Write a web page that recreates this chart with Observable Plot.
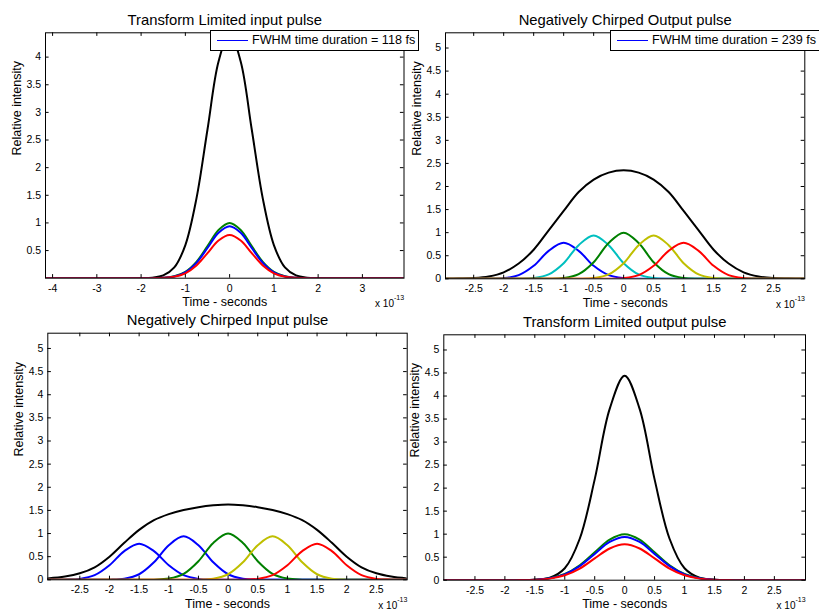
<!DOCTYPE html>
<html>
<head>
<meta charset="utf-8">
<script src="https://cdn.jsdelivr.net/npm/d3@7"></script>
<script src="https://cdn.jsdelivr.net/npm/@observablehq/plot@0.6"></script>
<style>
  html, body { margin: 0; padding: 0; background: #fff; }
  #chart { position: relative; width: 819px; height: 610px; overflow: hidden; background: #fff;
           font-family: "Liberation Sans", Arial, Helvetica, sans-serif; }
  #chart svg { position: absolute; left: 0; top: 0; }
  .legend { position: absolute; height: 21px; border: 1px solid #000; background: #fff; box-sizing: border-box;
            font-size: 12.6px; color: #000; white-space: nowrap; overflow: hidden; }
  .legend .ln { position: absolute; left: 6px; top: 9px; width: 31px; height: 0; border-top: 1px solid #0000ff; }
  .legend .tx { position: absolute; left: 41px; top: 0; line-height: 19px; }
</style>
</head>
<body>
<div id="chart"></div>
<script>
// ---------------- DATA ----------------
const titles = ["Transform Limited input pulse", "Negatively Chirped Output pulse",
                "Negatively Chirped Input pulse", "Transform Limited output pulse"];
const xLabel = "Time - seconds";
const yLabel = "Relative intensity";
const xExpBase = "x 10";
const xExp = "-13";
const legendLabels = ["FWHM time duration = 118 fs", "FWHM time duration = 239 fs"];

const xTicksA = [-4, -3, -2, -1, 0, 1, 2, 3];
const yTicksA = [0.5, 1, 1.5, 2, 2.5, 3, 3.5, 4];
const xTicksB = [-2.5, -2, -1.5, -1, -0.5, 0, 0.5, 1, 1.5, 2, 2.5];
const yTicksB = [0, 0.5, 1, 1.5, 2, 2.5, 3, 3.5, 4, 4.5, 5];

// Panel A: Transform Limited input pulse (time in units of 1e-13 s)
const timeA  = [-4.16, -3, -2.5, -2, -1.75, -1.5, -1.25, -1, -0.75, -0.5, -0.25, 0, 0.25, 0.5, 0.75, 1, 1.25, 1.5, 1.75, 2, 2.5, 3, 3.94];
const blackA = [0, 0, 0, 0.002, 0.01, 0.05, 0.195, 0.6, 1.44, 2.69, 3.92, 4.44, 3.92, 2.69, 1.44, 0.6, 0.195, 0.05, 0.01, 0.002, 0, 0, 0];
const greenA = [0, 0, 0, 0, 0.001, 0.008, 0.034, 0.114, 0.295, 0.581, 0.873, 1, 0.873, 0.581, 0.295, 0.114, 0.034, 0.008, 0.001, 0, 0, 0, 0];
const blueA  = [0, 0, 0, 0, 0.001, 0.007, 0.032, 0.107, 0.277, 0.546, 0.821, 0.94, 0.821, 0.546, 0.277, 0.107, 0.032, 0.007, 0.001, 0, 0, 0, 0];
const redA   = [0, 0, 0, 0, 0.001, 0.006, 0.026, 0.089, 0.23, 0.453, 0.681, 0.78, 0.681, 0.453, 0.23, 0.089, 0.026, 0.006, 0.001, 0, 0, 0, 0];

// Panel B: Negatively Chirped Output pulse
const timeB   = [-2.97, -2.75, -2.5, -2.25, -2, -1.75, -1.5, -1.25, -1, -0.75, -0.5, -0.25, 0, 0.25, 0.5, 0.75, 1, 1.25, 1.5, 1.75, 2, 2.25, 2.5, 2.75, 3.02];
const blackB  = [0, 0.005, 0.015, 0.05, 0.14, 0.33, 0.63, 1.05, 1.47, 1.88, 2.15, 2.3, 2.35, 2.3, 2.15, 1.88, 1.47, 1.05, 0.63, 0.33, 0.14, 0.05, 0.015, 0.005, 0];
const blueB   = [0, 0, 0, 0.001, 0.013, 0.079, 0.281, 0.605, 0.78, 0.605, 0.281, 0.079, 0.013, 0.001, 0, 0, 0, 0, 0, 0, 0, 0, 0, 0, 0];
const cyanB   = [0, 0, 0, 0, 0, 0.002, 0.016, 0.095, 0.338, 0.729, 0.94, 0.729, 0.338, 0.095, 0.016, 0.002, 0, 0, 0, 0, 0, 0, 0, 0, 0];
const greenB  = [0, 0, 0, 0, 0, 0, 0, 0.002, 0.017, 0.101, 0.36, 0.775, 1, 0.775, 0.36, 0.101, 0.017, 0.002, 0, 0, 0, 0, 0, 0, 0];
const yellowB = [0, 0, 0, 0, 0, 0, 0, 0, 0, 0.002, 0.016, 0.095, 0.338, 0.729, 0.94, 0.729, 0.338, 0.095, 0.016, 0.002, 0, 0, 0, 0, 0];
const redB    = [0, 0, 0, 0, 0, 0, 0, 0, 0, 0, 0, 0.001, 0.013, 0.079, 0.281, 0.605, 0.78, 0.605, 0.281, 0.079, 0.013, 0.001, 0, 0, 0];

// Panel C: Negatively Chirped Input pulse
const timeC   = [-3.04, -2.75, -2.5, -2.25, -2, -1.75, -1.5, -1.25, -1, -0.75, -0.5, -0.25, 0, 0.25, 0.5, 0.75, 1, 1.25, 1.5, 1.75, 2, 2.25, 2.5, 2.75, 3.02];
const blackC  = [0.03, 0.07, 0.14, 0.27, 0.5, 0.8, 1.08, 1.29, 1.42, 1.51, 1.57, 1.61, 1.63, 1.61, 1.57, 1.51, 1.42, 1.29, 1.08, 0.8, 0.5, 0.27, 0.14, 0.07, 0.03];
const blue1C  = [0, 0.003, 0.02, 0.1, 0.314, 0.621, 0.78, 0.621, 0.314, 0.1, 0.02, 0.003, 0, 0, 0, 0, 0, 0, 0, 0, 0, 0, 0, 0, 0];
const blue2C  = [0, 0, 0, 0, 0.003, 0.024, 0.12, 0.378, 0.748, 0.94, 0.748, 0.378, 0.12, 0.024, 0.003, 0, 0, 0, 0, 0, 0, 0, 0, 0, 0];
const greenC  = [0, 0, 0, 0, 0, 0, 0, 0.003, 0.026, 0.128, 0.402, 0.796, 1, 0.796, 0.402, 0.128, 0.026, 0.003, 0, 0, 0, 0, 0, 0, 0];
const yellowC = [0, 0, 0, 0, 0, 0, 0, 0, 0, 0, 0.003, 0.024, 0.12, 0.378, 0.748, 0.94, 0.748, 0.378, 0.12, 0.024, 0.003, 0, 0, 0, 0];
const redC    = [0, 0, 0, 0, 0, 0, 0, 0, 0, 0, 0, 0, 0, 0.003, 0.02, 0.1, 0.314, 0.621, 0.78, 0.621, 0.314, 0.1, 0.02, 0.003, 0];

// Panel D: Transform Limited output pulse
const timeD  = [-3.02, -2.5, -2, -1.75, -1.5, -1.25, -1, -0.75, -0.5, -0.25, 0, 0.25, 0.5, 0.75, 1, 1.25, 1.5, 1.75, 2, 2.5, 3.02];
const blackD = [0, 0, 0, 0.001, 0.008, 0.053, 0.26, 0.9, 2.19, 3.72, 4.44, 3.72, 2.19, 0.9, 0.26, 0.053, 0.008, 0.001, 0, 0, 0];
const greenD = [0, 0, 0, 0.002, 0.011, 0.044, 0.135, 0.325, 0.607, 0.883, 1, 0.883, 0.607, 0.325, 0.135, 0.044, 0.011, 0.002, 0, 0, 0];
const blueD  = [0, 0, 0, 0.002, 0.01, 0.041, 0.127, 0.305, 0.57, 0.83, 0.94, 0.83, 0.57, 0.305, 0.127, 0.041, 0.01, 0.002, 0, 0, 0];
const redD   = [0, 0, 0, 0.002, 0.009, 0.034, 0.106, 0.253, 0.473, 0.688, 0.78, 0.688, 0.473, 0.253, 0.106, 0.034, 0.009, 0.002, 0, 0, 0];

// ---------------- LAYOUT / STYLE ----------------
const W = 819, H = 610;
const BLACK = "#000000", BLUE = "#0000ff", CYAN = "#00bfbf", GREEN = "#008000", YELLOW = "#bfbf00", RED = "#ff0000";
const FONT = '"Liberation Sans", Arial, Helvetica, sans-serif';

const panels = [
  { title: titles[0], frame: {l: 45, t: 32.3, r: 403.5, b: 277.7},
    xDomain: [-4.16, 3.94], yDomain: [0, 4.44], xTicks: xTicksA, yTicks: yTicksA, time: timeA,
    series: [[blackA, BLACK], [greenA, GREEN], [blueA, BLUE], [redA, RED]],
    legend: {text: legendLabels[0], left: 210, top: 30, width: 209} },
  { title: titles[1], frame: {l: 445, t: 32.3, r: 804.3, b: 278.3},
    xDomain: [-2.97, 3.02], yDomain: [0, 5.33], xTicks: xTicksB, yTicks: yTicksB, time: timeB,
    series: [[blackB, BLACK], [blueB, BLUE], [cyanB, CYAN], [greenB, GREEN], [yellowB, YELLOW], [redB, RED]],
    legend: {text: legendLabels[1], left: 610, top: 30, width: 212} },
  { title: titles[2], frame: {l: 47.3, t: 332.7, r: 406.7, b: 579.3},
    xDomain: [-3.04, 3.02], yDomain: [0, 5.33], xTicks: xTicksB, yTicks: yTicksB, time: timeC,
    series: [[blackC, BLACK], [blue1C, BLUE], [blue2C, BLUE], [greenC, GREEN], [yellowC, YELLOW], [redC, RED]] },
  { title: titles[3], frame: {l: 443.3, t: 334.3, r: 805, b: 579.7},
    xDomain: [-3.02, 3.02], yDomain: [0, 5.33], xTicks: xTicksB, yTicks: yTicksB, time: timeD,
    series: [[blackD, BLACK], [greenD, GREEN], [blueD, BLUE], [redD, RED]] }
];

const chart = document.getElementById("chart");
const TICK = 3.6;

for (const p of panels) {
  const f = p.frame;
  const fw = f.r - f.l, fh = f.b - f.t;
  const lineMarks = p.series.map(([ys, color]) =>
    Plot.line(p.time.map((t, i) => ({t, v: ys[i]})),
      {x: "t", y: "v", stroke: color, strokeWidth: 2, curve: "catmull-rom", clip: true}));
  const svg = Plot.plot({
    width: W, height: H,
    marginLeft: f.l, marginRight: W - f.r, marginTop: f.t, marginBottom: H - f.b,
    x: {domain: p.xDomain},
    y: {domain: p.yDomain},
    style: {background: "none", color: "#000", fontFamily: FONT, fontSize: "10.5px", overflow: "visible"},
    marks: [
      ...lineMarks,
      Plot.tickY(p.yTicks, {y: d => d, insetRight: fw - TICK, stroke: "#000"}),
      Plot.tickY(p.yTicks, {y: d => d, insetLeft: fw - TICK, stroke: "#000"}),
      Plot.tickX(p.xTicks, {x: d => d, insetTop: fh - TICK, stroke: "#000"}),
      Plot.tickX(p.xTicks, {x: d => d, insetBottom: fh - TICK, stroke: "#000"}),
      Plot.frame({stroke: "#000"}),
      Plot.axisX({ticks: p.xTicks, tickSize: 0, tickPadding: 6, tickFormat: d => String(d), label: null, fontSize: 10.5}),
      Plot.axisY({ticks: p.yTicks, tickSize: 0, tickPadding: 4.5, tickFormat: d => String(d), label: null, fontSize: 10.5}),
      Plot.text([p.title], {text: d => d, frameAnchor: "top", dy: -8, lineAnchor: "bottom", fontSize: 14.8}),
      Plot.text([xLabel], {text: d => d, frameAnchor: "bottom", dy: 28, lineAnchor: "bottom", fontSize: 12.5}),
      Plot.text([yLabel], {text: d => d, frameAnchor: "left", rotate: -90, dx: -24.5, lineAnchor: "bottom", fontSize: 12.5}),
      Plot.text([xExpBase], {text: d => d, frameAnchor: "bottom-right", textAnchor: "end", dx: -10, dy: 29, lineAnchor: "bottom", fontSize: 10}),
      Plot.text([xExp], {text: d => d, frameAnchor: "bottom-right", textAnchor: "start", dx: -10, dy: 22, lineAnchor: "bottom", fontSize: 7})
    ]
  });
  chart.appendChild(svg);
}

for (const p of panels) {
  if (!p.legend) continue;
  const box = document.createElement("div");
  box.className = "legend";
  box.style.left = p.legend.left + "px";
  box.style.top = p.legend.top + "px";
  box.style.width = p.legend.width + "px";
  const ln = document.createElement("span");
  ln.className = "ln";
  const tx = document.createElement("span");
  tx.className = "tx";
  tx.textContent = p.legend.text;
  box.appendChild(ln);
  box.appendChild(tx);
  chart.appendChild(box);
}
</script>
</body>
</html>
